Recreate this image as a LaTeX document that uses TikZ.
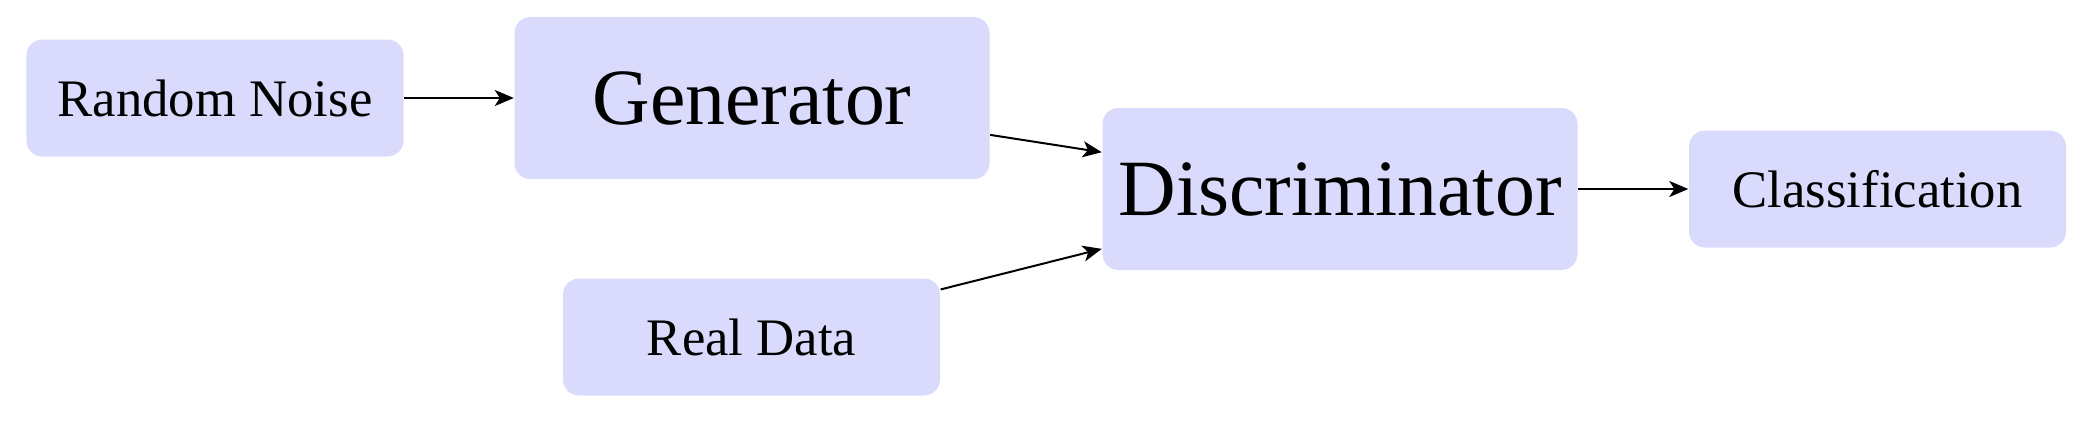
\documentclass[tikz,border=0pt]{standalone}
\usepackage{fontspec}
\setmainfont{Liberation Serif}
\usetikzlibrary{arrows.meta}
\definecolor{boxfill}{RGB}{218,218,252}
\tikzset{
	block/.style={fill=boxfill, rounded corners=0.16cm, inner sep=0pt, align=center},
	smallblock/.style={block, minimum width=3.77cm, minimum height=1.17cm, font=\fontsize{15}{18}\selectfont},
	bigblock/.style={block, minimum width=4.75cm, minimum height=1.62cm, font=\fontsize{22.7}{27}\selectfont},
	flow/.style={-{Stealth[length=0.19cm, width=0.16cm, inset=0.05cm]}, line width=0.02cm}
}

\begin{document}
\begin{tikzpicture}
			%%%%% START %%%%%
			
			\useasboundingbox (0, 0) rectangle (20.92, 4.26);
			
			\node[smallblock] (noise) at (2.15, 3.28) {Random Noise};
			\node[bigblock] (gen) at (7.52, 3.28) {Generator};
			\node[smallblock] (real) at (7.515, 0.89) {Real Data};
			\node[bigblock] (disc) at (13.40, 2.37) {Discriminator};
			\node[smallblock] (cls) at (18.775, 2.37) {Classification};
			
			\draw[flow] (noise) -- (gen);
			\draw[flow] (gen) -- (disc);
			\draw[flow] (real) -- (disc);
			\draw[flow] (disc) -- (cls);
			
			%%%%% END %%%%%
		\end{tikzpicture}
\end{document}
